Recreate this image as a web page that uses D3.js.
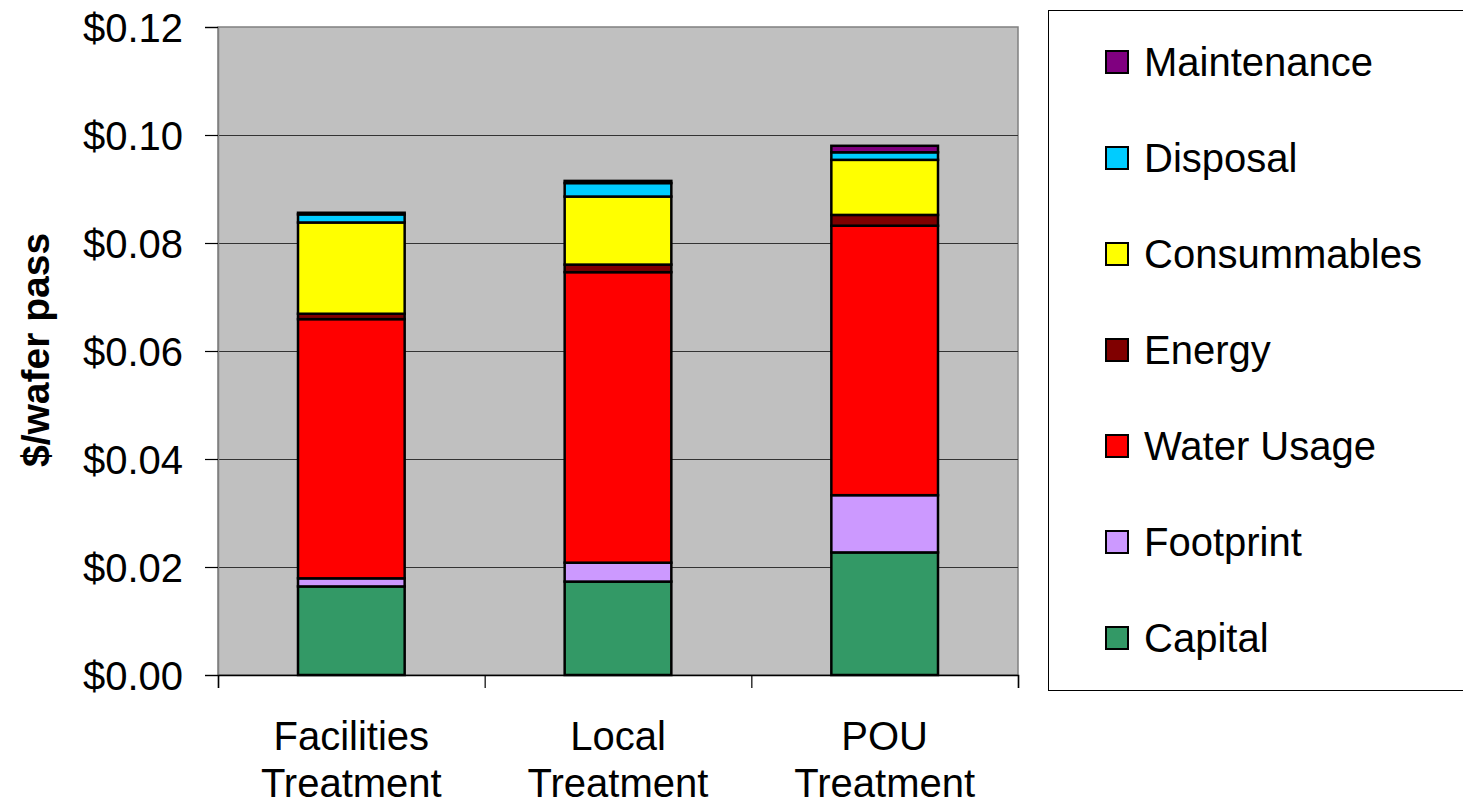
<!DOCTYPE html>
<html>
<head>
<meta charset="utf-8">
<script src="https://cdn.jsdelivr.net/npm/d3@7/dist/d3.min.js"></script>
<style>
  html, body { margin: 0; padding: 0; background: #fff; }
  svg { display: block; font-family: "Liberation Sans", Arial, sans-serif; }
</style>
</head>
<body>
<svg id="chart" width="1463" height="805"></svg>
<script>
// Cost breakdown per wafer pass for three treatment options
const categories = ["Facilities Treatment", "Local Treatment", "POU Treatment"];
const categoryLines = [["Facilities", "Treatment"], ["Local", "Treatment"], ["POU", "Treatment"]];

const seriesNames = ["Capital", "Footprint", "Water Usage", "Energy", "Consummables", "Disposal", "Maintenance"];
const capital      = [0.0164, 0.0173, 0.0227];
const footprint    = [0.0015, 0.0035, 0.0106];
const waterUsage   = [0.0480, 0.0538, 0.0499];
const energy       = [0.0010, 0.0014, 0.0020];
const consummables = [0.0169, 0.0126, 0.0102];
const disposal     = [0.0015, 0.0025, 0.0014];
const maintenance  = [0.0003, 0.0004, 0.0012];
const seriesColors = ["#339966", "#CC99FF", "#FF0000", "#800000", "#FFFF00", "#00CCFF", "#800080"];

const yTicks = [0, 0.02, 0.04, 0.06, 0.08, 0.10, 0.12];
const yTitle = "$/wafer pass";

const seriesValues = [capital, footprint, waterUsage, energy, consummables, disposal, maintenance];
const rows = categories.map((c, i) => {
  const r = { category: c };
  seriesNames.forEach((s, k) => { r[s] = seriesValues[k][i]; });
  return r;
});

const svg = d3.select("#chart");
const plot = { left: 218, right: 1018, top: 27, bottom: 675 };

const x = d3.scaleBand().domain(categories).range([plot.left, plot.right]).paddingInner(0.6).paddingOuter(0.3);
const y = d3.scaleLinear().domain([0, 0.12]).range([plot.bottom, plot.top]);
const color = d3.scaleOrdinal().domain(seriesNames).range(seriesColors);

// plot area background
svg.append("rect")
  .attr("x", plot.left).attr("y", plot.top)
  .attr("width", plot.right - plot.left).attr("height", plot.bottom - plot.top)
  .attr("fill", "#C0C0C0").attr("stroke", "#808080").attr("stroke-width", 1.5);

// horizontal gridlines
svg.append("g").selectAll("line").data(yTicks.filter(t => t > 0 && t < 0.12)).join("line")
  .attr("x1", plot.left).attr("x2", plot.right)
  .attr("y1", d => Math.round(y(d)) + 0.5).attr("y2", d => Math.round(y(d)) + 0.5)
  .attr("stroke", "#333").attr("stroke-width", 1.2);

// y axis
const yAxis = d3.axisLeft(y).tickValues(yTicks).tickSize(13).tickPadding(22)
  .tickFormat(d => "$" + d.toFixed(2));
const gy = svg.append("g").attr("transform", `translate(${plot.left},0)`).call(yAxis);
gy.select(".domain").attr("stroke", "#808080").attr("stroke-width", 1.5);
gy.selectAll(".tick line").attr("stroke", "#000").attr("stroke-width", 1.2);
gy.selectAll(".tick text").attr("font-size", 40).attr("fill", "#000")
  .attr("font-family", "'Liberation Sans', Arial, sans-serif").attr("dy", "0.36em");

// x axis: category separators
const sepScale = d3.scaleLinear().domain([0, categories.length]).range([plot.left, plot.right]);
const xAxis = d3.axisBottom(sepScale).tickValues(d3.range(categories.length + 1)).tickSize(13).tickFormat("");
const gx = svg.append("g").attr("transform", `translate(0,${plot.bottom})`).call(xAxis);
gx.select(".domain").attr("stroke", "#000").attr("stroke-width", 1.5);
gx.selectAll(".tick line").attr("stroke", "#000").attr("stroke-width", 1.2);

// category labels (two lines each)
const labels = svg.append("g").selectAll("text").data(categories).join("text")
  .attr("x", d => x(d) + x.bandwidth() / 2)
  .attr("y", 750)
  .attr("text-anchor", "middle").attr("font-size", 40).attr("fill", "#000");
labels.selectAll("tspan").data((d, i) => categoryLines[i]).join("tspan")
  .attr("x", function () { return this.parentNode.getAttribute("x"); })
  .attr("dy", (d, j) => j === 0 ? 0 : 47)
  .text(d => d);

// stacked bars
const stacked = d3.stack().keys(seriesNames)(rows);
svg.append("g").selectAll("g").data(stacked).join("g")
  .attr("fill", d => color(d.key))
  .selectAll("rect").data(d => d).join("rect")
  .attr("x", d => x(d.data.category))
  .attr("width", x.bandwidth())
  .attr("y", d => y(d[1]))
  .attr("height", d => y(d[0]) - y(d[1]))
  .attr("stroke", "#000").attr("stroke-width", 2.5);

// y axis title
svg.append("text")
  .attr("transform", "translate(49,350) rotate(-90)")
  .attr("text-anchor", "middle")
  .attr("font-size", 39).attr("font-weight", "bold").attr("fill", "#000")
  .text(yTitle);

// legend
const legend = svg.append("g");
legend.append("rect")
  .attr("x", 1048.5).attr("y", 10.5).attr("width", 430).attr("height", 680)
  .attr("fill", "#fff").attr("stroke", "#000").attr("stroke-width", 1);
const legendOrder = seriesNames.slice().reverse();
const ly = d3.scalePoint().domain(legendOrder).range([62, 638]);
const items = legend.selectAll("g.item").data(legendOrder).join("g")
  .attr("class", "item")
  .attr("transform", d => `translate(1106,${ly(d)})`);
items.append("rect")
  .attr("x", 0).attr("y", -11).attr("width", 22).attr("height", 22)
  .attr("fill", d => color(d)).attr("stroke", "#000").attr("stroke-width", 2);
items.append("text")
  .attr("x", 38).attr("y", 0).attr("dy", "0.36em")
  .attr("font-size", 40).attr("fill", "#000")
  .text(d => d);
</script>
</body>
</html>
